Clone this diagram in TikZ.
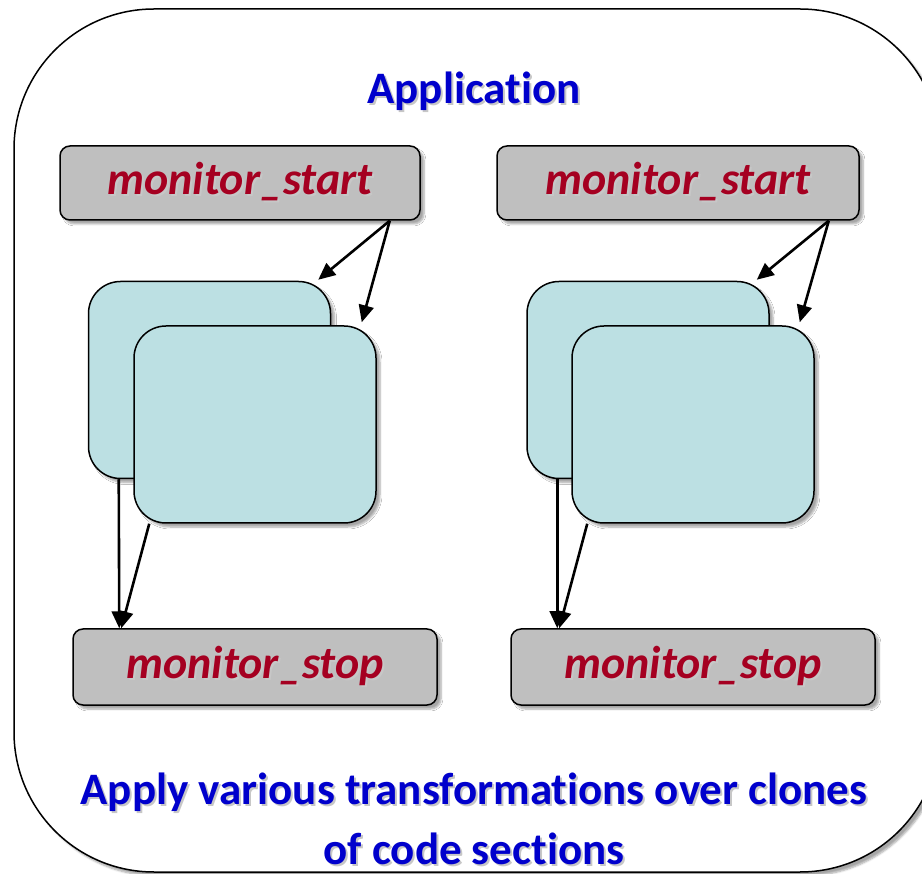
\documentclass[tikz,border=0pt]{standalone}
\usepackage{fontspec}
\setmainfont{Carlito}[Ligatures=NoCommon]
\usetikzlibrary{arrows.meta,shadows.blur,positioning}

\definecolor{boxgray}{RGB}{191,191,191}
\definecolor{clonecyan}{RGB}{188,224,227}
\definecolor{fnred}{RGB}{165,0,33}
\definecolor{titleblue}{RGB}{0,0,204}

% text with a soft grey copy behind it
\newcommand{\shadowed}[1]{\makebox[0pt][l]{\hspace{2pt}\raisebox{-2pt}{\textcolor{black!22}{#1}}}#1}

\tikzset{
  softshadow/.style={blur shadow={shadow xshift=4pt, shadow yshift=-4pt, shadow blur steps=6, shadow opacity=35}},
  monbox/.style={draw=black, line width=1.5pt, fill=boxgray, rounded corners=10pt,
    minimum height=74pt, inner sep=0pt, text=fnred,
    font=\fontsize{46}{50}\selectfont\bfseries\itshape, softshadow},
  clonebox/.style={draw=black, line width=1.5pt, fill=clonecyan, rounded corners=32pt,
    minimum width=242pt, minimum height=197pt, inner sep=0pt, softshadow},
  flow/.style={line width=2.6pt, -{Triangle[length=17pt,width=15pt]}},
  heading/.style={text=titleblue, font=\fontsize{45}{52}\selectfont\bfseries, inner sep=0pt, anchor=base},
}

\begin{document}
\begin{tikzpicture}[x=1pt, y=-1pt]

    \useasboundingbox (0,0) rectangle (922,874);
    \clip (0,0) rectangle (922,874);

    % --- 1. outer frame ---
    \node[draw=black, fill=white, line width=1.5pt, rounded corners=140pt, minimum width=926pt,
      minimum height=863pt, softshadow] (frame) at (477,440.5) {};
    \node[heading] (app) at (474,104) {\shadowed{Application}};

    % --- 2. monitor_start boxes ---
    \node[monbox, minimum width=360pt] (startA) at (240,183) {\shadowed{monitor\_start}};
    \node[monbox, minimum width=362pt] (startB) at (678,183) {\shadowed{monitor\_start}};

    % --- 3. cloned code sections ---
    \node[clonebox] (backA) at (209.5,380) {};
    \node[clonebox] (frontA) at (255,424.5) {};
    \node[clonebox] (backB) at (648,380) {};
    \node[clonebox] (frontB) at (693,424.5) {};

    % --- 4. monitor_stop boxes ---
    \node[monbox, minimum width=364pt, minimum height=76pt] (stopA) at (255,667) {\shadowed{monitor\_stop}};
    \node[monbox, minimum width=364pt, minimum height=76pt] (stopB) at (693,667) {\shadowed{monitor\_stop}};

    % --- 5. arrows ---
    \foreach \s in {A,B} {
      \draw[flow] ([xshift=-31pt]start\s.south east) -- ([xshift=-13pt, yshift=1pt]back\s.north east);
      \draw[flow] ([xshift=-31pt]start\s.south east) -- ([xshift=-15pt, yshift=3pt]front\s.north east);
      \draw[flow] ([xshift=31pt]back\s.south west) -- ([xshift=47pt]stop\s.north west);
      \draw[flow] ([xshift=16pt]front\s.south west) -- ([xshift=49pt]stop\s.north west);
    }

    % --- 6. caption ---
    \node[heading] (summary) at (474,804) {\shadowed{Apply various transformations over clones}};
    \node[heading, text depth=0pt] (summary2) at (474,864) {\shadowed{of code sections}};

  \end{tikzpicture}
\end{document}
